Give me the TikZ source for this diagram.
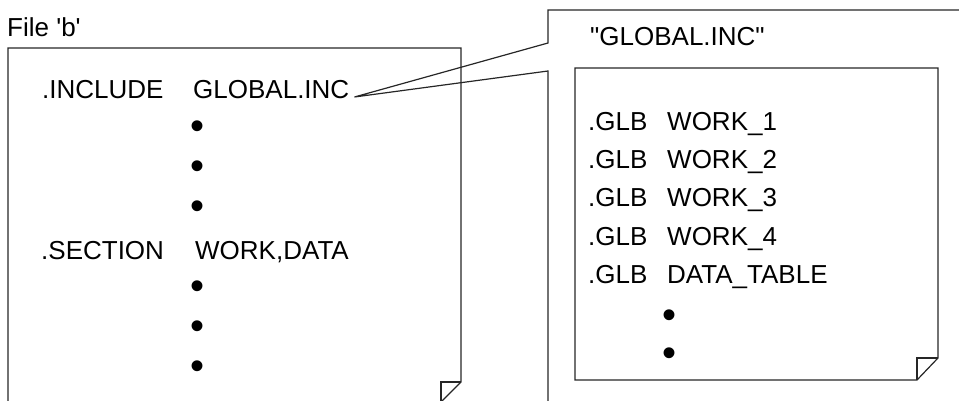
\documentclass[tikz,border=0pt]{standalone}
\usepackage{fontspec}
\setmainfont{Liberation Sans}[Ligatures=TeXOff]
\usetikzlibrary{calc, positioning}

\tikzset{
  codetext/.style={anchor=base west, inner sep=0pt, font=\fontsize{26}{30}\selectfont},
  dotmark/.style={inner sep=0pt, font=\fontsize{40}{44}\selectfont},
  pageline/.style={line width=1.2pt, line join=miter, draw=black!85}
}

\begin{document}
\begin{tikzpicture}[x=1pt, y=-1pt]
  \clip (0,0) rectangle (959,401);

  % file 'b'
  \node[codetext] (filebTitle) at (7,37) {File 'b'};
  \draw[pageline] (8,410) -- (8,48) -- (461,48) -- (461,382) -- (441,402);
  \draw[pageline] (461,382) -- (441,382) -- (441,410);

  \node[codetext] (incKey) at (42,99) {.INCLUDE};
  \node[codetext] (incName) at (193,99) {GLOBAL.INC};
  \node[dotmark] (dotA1) at (197,130) {•};
  \node[dotmark] (dotA2) at (197,170) {•};
  \node[dotmark] (dotA3) at (197,210) {•};
  \node[codetext] (secKey) at (41,259) {.SECTION};
  \node[codetext] (secName) at (195,259) {WORK,DATA};
  \node[dotmark] (dotB1) at (197,290) {•};
  \node[dotmark] (dotB2) at (197,330) {•};
  \node[dotmark] (dotB3) at (197,370) {•};

  % callout for GLOBAL.INC
  \coordinate (calloutTip) at ($(incName.base east)+(5,-2)$);
  \draw[pageline] (970,10) -- (548,10) -- (548,43) -- (calloutTip) -- (548,71) -- (548,410);
  \node[codetext] (incTitle) at (590,46) {"GLOBAL.INC"};

  % included file
  \draw[pageline] (575,68) -- (938,68) -- (938,358) -- (917,380) -- (575,380) -- cycle;
  \draw[pageline] (938,358) -- (917,358) -- (917,380);

  \node[codetext] (glbKey1) at (588,131) {.GLB};
  \node[codetext] (glbName1) at (667,131) {WORK\_1};
  \node[codetext] (glbKey2) at (588,169) {.GLB};
  \node[codetext] (glbName2) at (667,169) {WORK\_2};
  \node[codetext] (glbKey3) at (588,207) {.GLB};
  \node[codetext] (glbName3) at (667,207) {WORK\_3};
  \node[codetext] (glbKey4) at (588,245) {.GLB};
  \node[codetext] (glbName4) at (667,245) {WORK\_4};
  \node[codetext] (glbKey5) at (588,283) {.GLB};
  \node[codetext] (glbName5) at (667,283) {DATA\_TABLE};
  \node[dotmark] (dotC1) at (669,319) {•};
  \node[dotmark] (dotC2) at (669,357) {•};
\end{tikzpicture}
\end{document}
